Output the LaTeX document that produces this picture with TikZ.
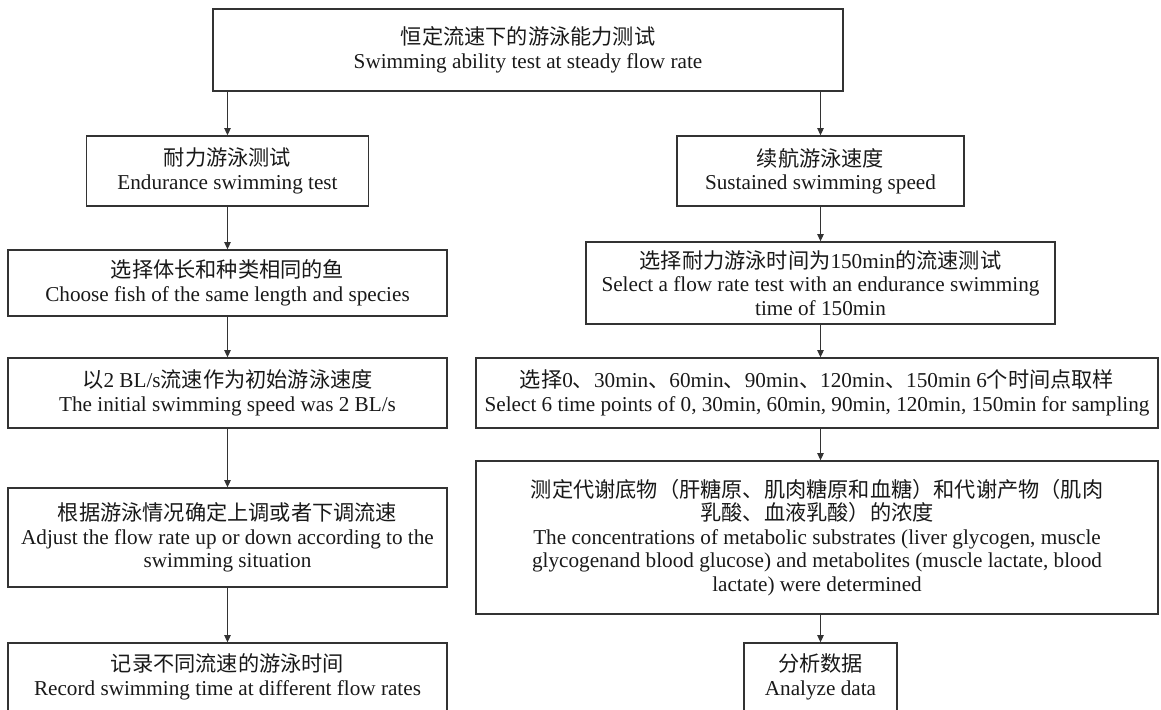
\documentclass[tikz,border=0pt]{standalone}
\usepackage{fontspec}
\setmainfont{Liberation Serif}
\newfontfamily\cjk{Noto Sans CJK SC}
\newcommand{\zh}[1]{{\cjk #1}}
\usetikzlibrary{arrows.meta}

\begin{document}
\begin{tikzpicture}[x=0.5pt,y=0.5pt,
  stage/.style={draw=black!80, line width=0.65pt, align=center, inner sep=0pt,
    font=\fontsize{10.6}{11.7}\selectfont, text=black!90},
  wh/.style 2 args={minimum width=#1*0.5pt, minimum height=#2*0.5pt},
  arr/.style={draw=black!80, line width=0.55pt, -{Triangle[length=3.6pt,width=3.2pt]}}]
  \useasboundingbox (0,0) rectangle (1161,710);

  % Top box
  \node[stage, wh={630}{82}] (top) at (528,660)
    {\zh{恒定流速下的游泳能力测试}\\Swimming ability test at steady flow rate};

  % Left column: endurance test
  \node[stage, wh={282}{70}] (endur) at (227.5,539)
    {\zh{耐力游泳测试}\\Endurance swimming test};
  \node[stage, wh={439}{66}] (choose) at (227.5,427)
    {\zh{选择体长和种类相同的鱼}\\Choose fish of the same length and species};
  \node[stage, wh={439}{70}] (init) at (227.5,317)
    {\zh{以}2 BL/s\zh{流速作为初始游泳速度}\\The initial swimming speed was 2 BL/s};
  \node[stage, wh={439}{99}] (adjust) at (227.5,172.5)
    {\zh{根据游泳情况确定上调或者下调流速}\\Adjust the flow rate up or down according to the\\swimming situation};
  \node[stage, wh={439}{68}] (record) at (227.5,33)
    {\zh{记录不同流速的游泳时间}\\Record swimming time at different flow rates};

  % Right column: sustained speed
  \node[stage, wh={287}{70}] (sust) at (820.5,539)
    {\zh{续航游泳速度}\\Sustained swimming speed};
  \node[stage, wh={469}{82}] (select) at (820.5,427)
    {\zh{选择耐力游泳时间为}150min\zh{的流速测试}\\Select a flow rate test with an endurance swimming\\time of 150min};
  \node[stage, wh={682}{70}] (points) at (817,317)
    {\zh{选择}0\zh{、}30min\zh{、}60min\zh{、}90min\zh{、}120min\zh{、}150min 6\zh{个时间点取样}\\Select 6 time points of 0, 30min, 60min, 90min, 120min, 150min for sampling};
  \node[stage, wh={682}{153}] (measure) at (817,172.5)
    {\zh{测定代谢底物（肝糖原、肌肉糖原和血糖）和代谢产物（肌肉}\\\zh{乳酸、血液乳酸）的浓度}\\The concentrations of metabolic substrates (liver glycogen, muscle\\glycogenand blood glucose) and metabolites (muscle lactate, blood\\lactate) were determined};
  \node[stage, wh={153}{68}] (analyze) at (820.5,33)
    {\zh{分析数据}\\Analyze data};

  % Arrows
  \draw[arr] (endur.north |- top.south) -- (endur.north);
  \draw[arr] (sust.north |- top.south) -- (sust.north);
  \draw[arr] (endur.south) -- (endur.south |- choose.north);
  \foreach \a/\b in {choose/init, init/adjust, adjust/record}
    \draw[arr] (\a.south) -- (\b.north);
  \draw[arr] (sust.south) -- (select.north);
  \draw[arr] (select.south) -- (select.south |- points.north);
  \draw[arr] (select.south |- points.south) -- (select.south |- measure.north);
  \draw[arr] (select.south |- measure.south) -- (analyze.north);
\end{tikzpicture}
\end{document}
